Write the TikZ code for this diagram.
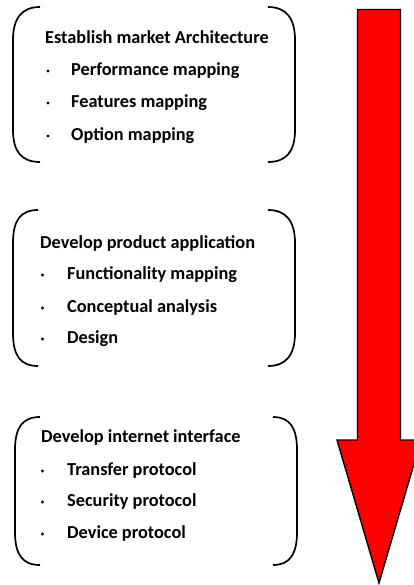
\documentclass[tikz,border=0pt]{standalone}
\usepackage{fontspec}
\setmainfont{Carlito}
\begin{document}
\begin{tikzpicture}[x=1pt,y=-1pt,
  bracket/.style={line width=1.7pt, black},
  title/.style={anchor=base west, inner sep=0pt, font=\bfseries\fontsize{18.3}{21}\selectfont},
  item/.style={anchor=base west, inner sep=0pt, font=\bfseries\fontsize{18.3}{21}\selectfont},
  bulletdot/.style={circle, fill=black, inner sep=0pt, minimum size=3.1pt},
  bigarrow/.style={fill=red, draw=black, line width=1.4pt, line join=miter}]
\useasboundingbox (0,0) rectangle (414,585);
% ---------- Box 1 ----------
\draw[bracket] (40,7) .. controls (22,7) and (13,18) .. (13,40) -- (13,130) .. controls (13,152) and (22,162) .. (40,162);
\draw[bracket] (268,7) .. controls (286,7) and (295,18) .. (295,40) -- (295,130) .. controls (295,152) and (286,162) .. (268,162);
\node[title] (t1) at (45,43.5) {Establish market Architecture};
\node[bulletdot] (b11) at (48,71) {};
\node[item] (i11) at (71,75.5) {Performance mapping};
\node[bulletdot] (b12) at (48,103) {};
\node[item] (i12) at (71,107.5) {Features mapping};
\node[bulletdot] (b13) at (48,136) {};
\node[item] (i13) at (71,140.5) {Option mapping};
% ---------- Box 2 ----------
\draw[bracket] (38,210) .. controls (20,210) and (13,221) .. (13,243) -- (13,333) .. controls (13,355) and (20,366) .. (38,366);
\draw[bracket] (268,210) .. controls (286,210) and (295,221) .. (295,243) -- (295,333) .. controls (295,355) and (286,366) .. (268,366);
\node[title] (t2) at (40,248.5) {Develop product application};
\node[bulletdot] (b21) at (42.5,275) {};
\node[item] (i21) at (67,279.5) {Functionality mapping};
\node[bulletdot] (b22) at (42.5,308) {};
\node[item] (i22) at (67,312.5) {Conceptual analysis};
\node[bulletdot] (b23) at (42.5,339) {};
\node[item] (i23) at (67,343.5) {Design};
% ---------- Box 3 ----------
\draw[bracket] (40,417) .. controls (22,417) and (15,428) .. (15,450) -- (15,532) .. controls (15,554) and (22,565) .. (40,565);
\draw[bracket] (273,417) .. controls (290,417) and (297,428) .. (297,450) -- (297,532) .. controls (297,554) and (290,565) .. (273,565);
\node[title] (t3) at (41,442.5) {Develop internet interface};
\node[bulletdot] (b31) at (42.5,471) {};
\node[item] (i31) at (67,475.5) {Transfer protocol};
\node[bulletdot] (b32) at (42.5,502) {};
\node[item] (i32) at (67,506.5) {Security protocol};
\node[bulletdot] (b33) at (42.5,534) {};
\node[item] (i33) at (67,538.5) {Device protocol};
% ---------- Arrow ----------
\draw[bigarrow] (357.5,9.5) -- (400.5,9.5) -- (400.5,440) -- (421,440) -- (379,583) -- (337,440) -- (357.5,440) -- cycle;
\end{tikzpicture}
\end{document}
